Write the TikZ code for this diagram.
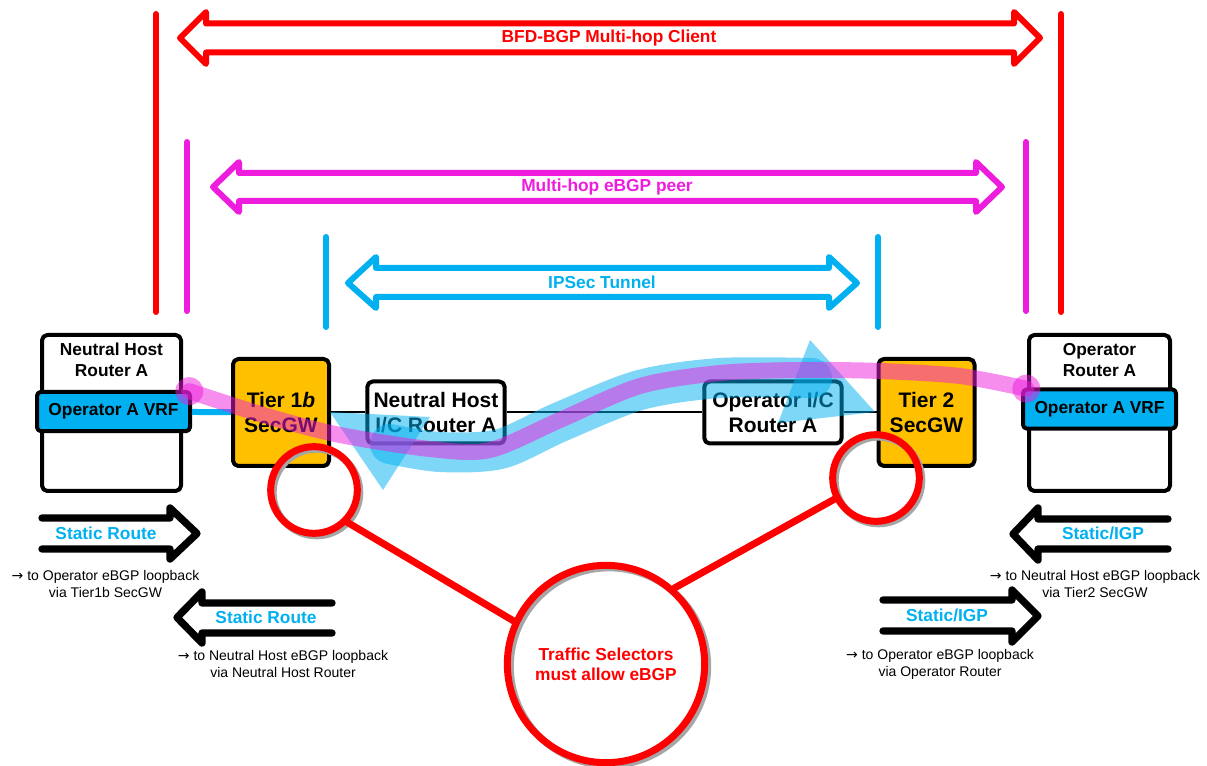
\documentclass[tikz,border=0pt]{standalone}
\usepackage{fontspec}
\setmainfont{Liberation Sans}
\newfontfamily\arrowfont{DejaVu Sans}
\usepackage{tikz}
\usetikzlibrary{positioning,calc}
\definecolor{bfdred}{HTML}{FF0000}
\definecolor{peermag}{HTML}{EE1DDD}
\definecolor{tunblue}{HTML}{00B0F0}
\definecolor{gwgold}{HTML}{FFC000}
\newcommand{\toarrow}{{\arrowfont\char"2192}}
\tikzset{
    every picture/.style={line cap=round,line join=round},
    routerbox/.style={draw,fill=white,line width=3pt,rounded corners=4pt,
      minimum width=104.25pt,minimum height=117pt,inner sep=0pt},
    boxtitle/.style={align=center,font=\fontsize{13}{15.75}\selectfont\bfseries},
    vrfbox/.style={draw,fill=tunblue,line width=3pt,rounded corners=3pt,
      minimum width=114.75pt,minimum height=29.5pt,inner sep=0pt,
      font=\fontsize{13}{15}\selectfont\bfseries},
    gwbox/.style={draw,fill=gwgold,line width=3pt,rounded corners=4pt,
      minimum width=72pt,minimum height=80.25pt,inner sep=0pt,align=center,
      font=\fontsize{15.75}{19}\selectfont\bfseries},
    icbox/.style={draw,fill=white,line width=3pt,rounded corners=4pt,
      minimum width=103pt,minimum height=46.5pt,inner sep=0pt,align=center,
      font=\fontsize{15.75}{19}\selectfont\bfseries},
    ring/.style={circle,draw=bfdred,line width=5.25pt,inner sep=0pt},
    ringshade/.style={draw=black!35,line width=5.25pt},
    callout/.style={draw=bfdred,line width=5.25pt},
    hopbar/.style={line width=4.5pt},
    spanarrow/.style={line width=4.5pt},
    spanlabel/.style={font=\fontsize{13}{15}\selectfont\bfseries},
    routearrow/.style={draw=black,line width=5.5pt},
    routelabel/.style={text=tunblue,font=\fontsize{13}{15}\selectfont\bfseries},
    routenote/.style={align=center,font=\fontsize{10.5}{12.75}\selectfont},
    tunnelflow/.style={draw=tunblue,opacity=0.5,line width=30pt},
    peerflow/.style={draw=peermag,opacity=0.5,line width=12pt}
}

\begin{document}
\begin{tikzpicture}[x=0.75pt,y=-0.75pt]
  \useasboundingbox (0,0) rectangle (1207,766);

  % session spans
  \draw[hopbar,bfdred] (156,14) -- (156,312) (1061,14) -- (1061,312);
  \draw[spanarrow,bfdred] (180,38) -- (206,12) -- (206,23.5) -- (1014,23.5) -- (1014,12)
    -- (1040,38) -- (1014,64) -- (1014,52.5) -- (206,52.5) -- (206,64) -- cycle;
  \node[spanlabel,text=bfdred] (bfdlabel) at (609,38) {BFD-BGP Multi-hop Client};

  \draw[hopbar,peermag] (187,142) -- (187,311) (1026,142) -- (1026,311);
  \draw[spanarrow,peermag] (213,187) -- (239,162) -- (239,173) -- (976,173) -- (976,162)
    -- (1002,187) -- (976,212) -- (976,201) -- (239,201) -- (239,212) -- cycle;
  \node[spanlabel,text=peermag] (peerlabel) at (607,187) {Multi-hop eBGP peer};

  \draw[hopbar,tunblue] (326,237) -- (326,327) (878,237) -- (878,327);
  \draw[spanarrow,tunblue] (348,283) -- (376,257) -- (376,268) -- (829,268) -- (829,257)
    -- (857,283) -- (829,308) -- (829,297) -- (376,297) -- (376,308) -- cycle;
  \node[spanlabel,text=tunblue] (ipseclabel) at (602,282) {IPSec Tunnel};

  % routers and gateways
  \node[routerbox] (nhr) at (111.5,413) {};
  \node[boxtitle,below=4pt of nhr.north] (nhrtitle) {Neutral Host\\Router A};
  \node[vrfbox] (nhvrf) at (113.5,411.5) {Operator A VRF};

  \node[routerbox,minimum width=105.75pt] (opr) at (1099.5,413) {};
  \node[boxtitle,below=4pt of opr.north] (oprtitle) {Operator\\Router A};
  \node[vrfbox] (opvrf) at (1099.5,409) {Operator A VRF};

  \node[gwbox] (t1) at (281,412.5) {Tier 1\textit{b}\\SecGW};
  \node[icbox] (nhic) at (436,412.5) {Neutral Host\\I/C Router A};
  \node[icbox] (opic) at (773,412.5) {Operator I/C\\Router A};
  \node[gwbox] (t2) at (926.5,412.5) {Tier 2\\SecGW};

  \draw[tunblue,line width=4.5pt,line cap=butt] (nhvrf) -- (t1);
  \draw[line width=1.5pt,line cap=butt] (t1) -- (nhic) -- (opic) -- (t2);

  % traffic selectors
  \draw[ringshade] (316.5,492.5) circle[radius=32.5pt];
  \draw[ringshade] (878.5,480.5) circle[radius=32.5pt];
  \draw[ringshade] (609,666.5) circle[radius=74pt];
  \node[ring,minimum size=65pt] (sel1) at (314,490) {};
  \node[ring,minimum size=65pt] (sel2) at (876,478) {};
  \node[ring,minimum size=148pt,text=bfdred,align=center,
    font=\fontsize{13}{15}\selectfont\bfseries] (selbig) at (606,664) {Traffic Selectors\\must allow eBGP};
  \draw[callout] (sel1.-44) -- (selbig.155);
  \draw[callout] (sel2.-153) -- (selbig.48);

  % static routes
  \draw[routearrow] (42,518) -- (170,518) -- (170,508) -- (197,533.5) -- (170,559) -- (170,549) -- (42,549);
  \node[routelabel] (srA) at (106,533) {Static Route};
  \node[routenote] (srAnote) at (105.5,584) {\toarrow{} to Operator eBGP loopback\\via Tier1b SecGW};

  \draw[routearrow] (332,603) -- (202,603) -- (202,592) -- (177,617.5) -- (202,643) -- (202,633) -- (332,633);
  \node[routelabel] (srB) at (266,617) {Static Route};
  \node[routenote] (srBnote) at (283,664) {\toarrow{} to Neutral Host eBGP loopback\\via Neutral Host Router};

  \draw[routearrow] (1168,519) -- (1038,519) -- (1038,508) -- (1013,534) -- (1038,560) -- (1038,549) -- (1168,549);
  \node[routelabel] (igpA) at (1103,533) {Static/IGP};
  \node[routenote] (igpAnote) at (1095,584) {\toarrow{} to Neutral Host eBGP loopback\\via Tier2 SecGW};

  \draw[routearrow] (883,600) -- (1012,600) -- (1012,590) -- (1038,616) -- (1012,642) -- (1012,631) -- (883,631);
  \node[routelabel] (igpB) at (947,615) {Static/IGP};
  \node[routenote] (igpBnote) at (940,664) {\toarrow{} to Operator eBGP loopback\\via Operator Router};

  % tunnel and peering paths
  \draw[tunnelflow] plot[smooth] coordinates {(390,444) (440,452) (500,449) (560,422) (640,390) (720,378) (812,378)};
  \fill[tunblue,opacity=0.5] (330,412) -- (430,417) -- (383,490) -- cycle;
  \fill[tunblue,opacity=0.5] (810,340) -- (875,412) -- (778,423) -- cycle;

  \coordinate (peerL) at ([xshift=-2pt,yshift=-1pt]nhvrf.north east);
  \coordinate (peerR) at ([xshift=4pt,yshift=-1pt]opvrf.north west);
  \draw[peerflow] plot[smooth] coordinates {(peerL) (270,417) (340,435) (430,449) (490,450) (560,420)
    (640,386) (720,373) (800,370) (880,371) (960,376) (peerR)};
  \fill[peermag,opacity=0.5] (peerL) circle[radius=10.5pt];
  \fill[peermag,opacity=0.5] (peerR) circle[radius=10.5pt];
\end{tikzpicture}
\end{document}
